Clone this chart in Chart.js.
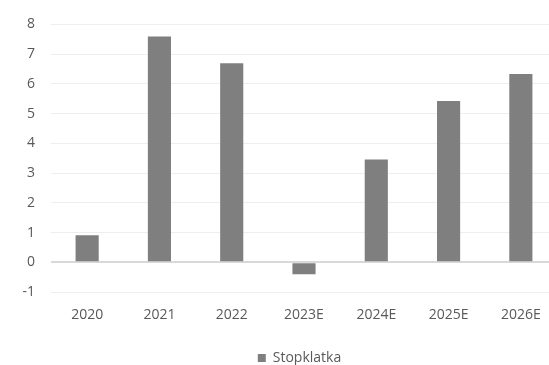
<!DOCTYPE html>
<html>
<head>
<meta charset="utf-8">
<script src="https://cdn.jsdelivr.net/npm/chart.js@4/dist/chart.umd.min.js"></script>
<style>
  html, body { margin: 0; padding: 0; background: #fff; overflow: hidden; }
  #chart { width: 558px; height: 375px; }
</style>
</head>
<body>
<div id="chart"><canvas id="c"></canvas></div>
<script>
const years = ["2020", "2021", "2022", "2023E", "2024E", "2025E", "2026E"];
const stopklatka = [0.91, 7.59, 6.69, -0.4, 3.46, 5.42, 6.33];
const seriesName = "Stopklatka";

const FONT = "'Open Sans', 'Liberation Sans', sans-serif";
const TEXT = "#595959";

// the legend sits a little right of the canvas centre
const nudgeLegend = {
  id: "nudgeLegend",
  afterLayout(chart) {
    chart.legend.left += 21;
    chart.legend.right += 21;
  },
};

new Chart(document.getElementById("c"), {
  type: "bar",
  data: {
    labels: years,
    datasets: [{
      label: seriesName,
      data: stopklatka,
      backgroundColor: "#7f7f7f",
      borderWidth: 0,
      categoryPercentage: 1,
      barPercentage: 0.32,
    }],
  },
  options: {
    animation: false,
    responsive: true,
    maintainAspectRatio: false,
    layout: { padding: { top: 21, right: 1, left: 0, bottom: 0 } },
    plugins: {
      tooltip: { enabled: false },
      legend: {
        position: "bottom",
        labels: {
          boxWidth: 8,
          boxHeight: 8,
          padding: 1,
          color: TEXT,
          font: { family: FONT, size: 14 },
        },
      },
    },
    scales: {
      x: {
        grid: { display: false, drawTicks: false },
        border: { display: false },
        ticks: {
          color: TEXT,
          padding: 15,
          maxRotation: 0,
          font: { family: FONT, size: 14 },
        },
        afterFit(scale) { scale.height = 58; },
      },
      y: {
        min: -1,
        max: 8,
        ticks: {
          stepSize: 1,
          color: TEXT,
          padding: 16,
          font: { family: FONT, size: 14 },
        },
        grid: {
          drawTicks: false,
          color: (ctx) => (ctx.tick && ctx.tick.value === 0 ? "#d9d9d9" : "#eeeeee"),
          lineWidth: (ctx) => (ctx.tick && ctx.tick.value === 0 ? 2 : 1),
        },
        border: { display: false },
        afterFit(scale) { scale.width = 51; },
      },
    },
  },
  plugins: [nudgeLegend],
});
</script>
</body>
</html>
